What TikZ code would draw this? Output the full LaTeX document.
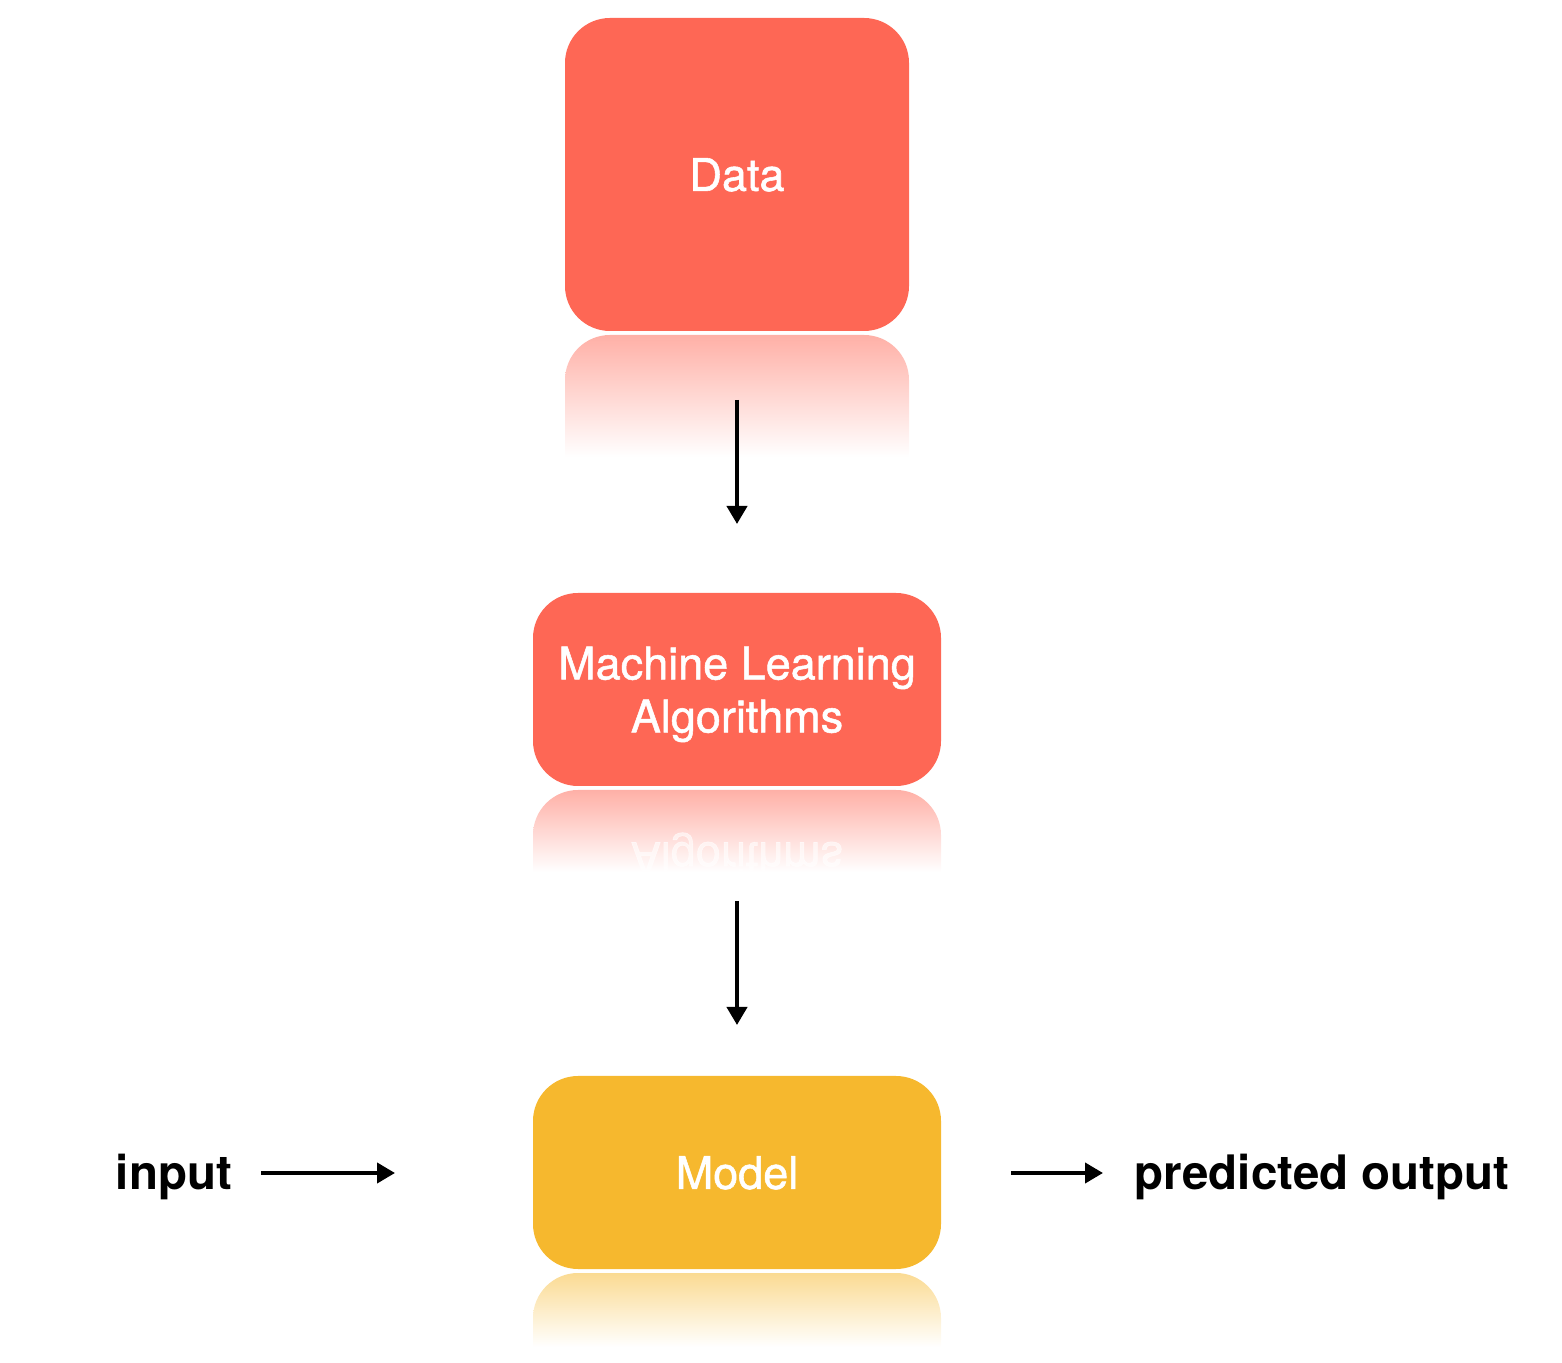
\documentclass[tikz,border=0pt]{standalone}
\usepackage{fontspec}
\setmainfont{TeX Gyre Heros}
\newfontfamily\boxfont[FakeBold=1.2]{TeX Gyre Heros}
\usetikzlibrary{arrows.meta}
\definecolor{boxred}{RGB}{254,103,85}
\definecolor{boxyellow}{RGB}{246,184,46}
\tikzset{
  box/.style={draw=none, rounded corners=45pt, inner sep=0pt, align=center,
    text=white, text depth=0pt, font=\boxfont\fontsize{45}{53}\selectfont},
  conn/.style={line width=4pt, -{Triangle[width=20pt,length=18pt]}},
  side/.style={font=\fontsize{47.5}{56}\selectfont\bfseries, anchor=base, inner sep=0pt},
}
\newcommand{\reflbox}[5]{% x1, x2, ytop, ybottom, colour
  \shade[top color=#5!52!white, bottom color=white]
    (#1,#4) -- (#1,#3-45) arc[start angle=180,end angle=90,radius=45]
    -- (#2-45,#3) arc[start angle=90,end angle=0,radius=45] -- (#2,#4) -- cycle;}
\begin{document}
\begin{tikzpicture}[x=1pt,y=1pt]
\useasboundingbox (0,0) rectangle (1562,1362);
% reflections
\reflbox{565}{909}{1027}{905}{boxred}
\reflbox{533}{941}{572}{490}{boxred}
\reflbox{533}{941}{89}{15}{boxyellow}
\node[text=white, font=\boxfont\fontsize{45}{53}\selectfont, yscale=-1, opacity=0.6] (mlrefl) at (737,508) {Algorithms};
% boxes
\node[box, fill=boxred, minimum width=344pt, minimum height=313pt] (data) at (737,1187.5) {Data};
\node[box, fill=boxred, minimum width=408pt, minimum height=193pt] (ml) at (737,672.5) {Machine Learning\\Algorithms};
\node[box, fill=boxyellow, minimum width=408pt, minimum height=193pt] (model) at (737,189.5) {Model};
% side labels
\node[side] (input) at (174,172) {input};
\node[side] (output) at (1322,172) {predicted output};
% arrow ends
\coordinate (a1s) at (737,962);
\coordinate (a1e) at (737,838);
\coordinate (a2s) at (737,461);
\coordinate (a2e) at (737,337);
\coordinate (a3s) at (261,189);
\coordinate (a3e) at (395,189);
\coordinate (a4s) at (1011,189);
\coordinate (a4e) at (1103,189);
\draw[conn] (a1s) -- (a1e);
\draw[conn] (a2s) -- (a2e);
\draw[conn] (a3s) -- (a3e);
\draw[conn] (a4s) -- (a4e);
\end{tikzpicture}
\end{document}
